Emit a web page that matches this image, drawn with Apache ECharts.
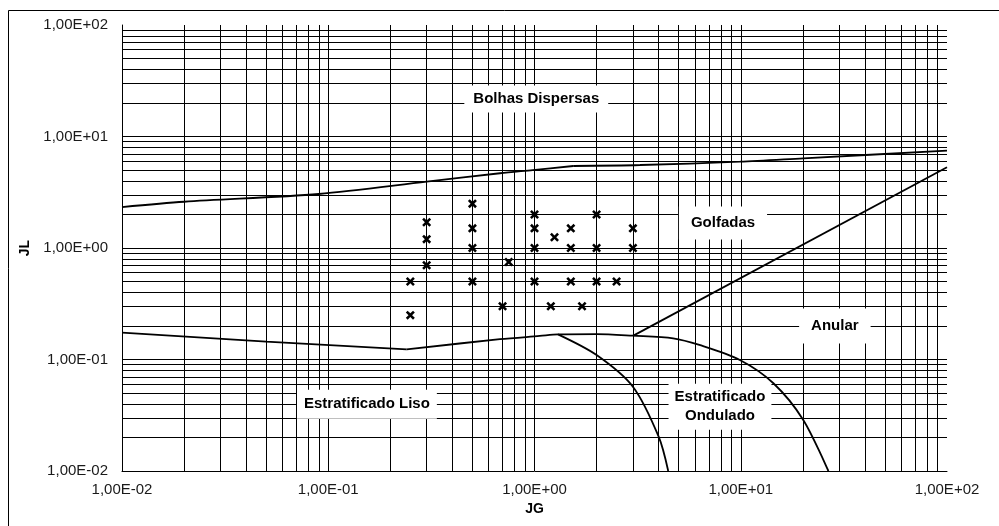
<!DOCTYPE html>
<html><head><meta charset="utf-8">
<script src="https://cdn.jsdelivr.net/npm/echarts@6/dist/echarts.min.js"></script>
<style>html,body{margin:0;padding:0;background:#fff}#c{width:999px;height:526px}</style>
</head><body><div id="c"></div>
<script>
// ---- tick labels ----
const xTickLabels = ['1,00E-02','1,00E-01','1,00E+00','1,00E+01','1,00E+02'];
const yTickLabels = ['1,00E-02','1,00E-01','1,00E+00','1,00E+01','1,00E+02'];
const xAxisName = 'JG';
const yAxisName = 'JL';

// ---- experimental points ----
const pointsJG = [0.25,0.25,0.3,0.3,0.3,0.5,0.5,0.5,0.5,0.75,0.7,1,1,1,1,1.25,1.2,1.5,1.5,1.5,1.7,2,2,2,2.5,3,3];
const pointsJL = [0.5,0.25,1.7,1.2,0.7,2.5,1.5,1.0,0.5,0.75,0.3,2,1.5,1,0.5,1.25,0.3,1.5,1,0.5,0.3,2,1,0.5,0.5,1.5,1];

// ---- transition boundaries ----
const upperAJG = [0.01,0.02,0.09,0.3,0.68,0.98,1.54];
const upperAJL = [2.33,2.6,3.05,3.93,4.68,5.0,5.44];
const upperBJG = [1.54,3.25,9.9,20.1,100];
const upperBJL = [5.44,5.55,5.94,6.37,7.47];

const lisoAJG = [0.01,0.05,0.24];
const lisoAJL = [0.174,0.1445,0.1235];
const lisoBJG = [0.24,0.68,1.06,1.3,2.0,3.0,4.7,6.3,9.9,14.4,20.1,26.6];
const lisoBJL = [0.1235,0.152,0.1626,0.168,0.169,0.1635,0.155,0.135,0.099,0.0612,0.0287,0.01];

const ondJG = [1.3,2.0,3.0,4.0,4.45];
const ondJL = [0.168,0.1096,0.057,0.0203,0.01];

const anularJG = [3.0,100];
const anularJL = [0.163,5.3];

// ---- region labels (anchored in data space) ----
const regionNames = ['Bolhas Dispersas','Golfadas','Anular','Estratificado Liso','Estratificado\nOndulado'];
const regionJG = [1.02,8.2,28.6,0.154,7.93];
const regionJL = [21.7,1.68,0.2,0.0396,0.0377];
const regionPad = [[4,9],[7,12],[8,12],[5,7],[4,6]];

// ---- grid line multipliers ----
const decades = [0.01,0.1,1,10];
const mults = [1,2,3,4,5,6,7,8,9];

const FONT = '"Liberation Sans", Arial, sans-serif';
function zip(a,b){return a.map((v,i)=>[v,b[i]]);}
function expLabel(arr){return function(v){const e=Math.round(Math.log10(v));return arr[e+2]||'';};}

const gridX = [], gridY = [];
decades.forEach(d=>mults.forEach(m=>{
  const v = +(d*m).toPrecision(3);
  if (v>0.01) { gridX.push({xAxis:v}); gridY.push({yAxis:v}); }
}));

const X_SHAPE = 'path://M0,2 L2,0 L5,3 L8,0 L10,2 L7,5 L10,8 L8,10 L5,7 L2,10 L0,8 L3,5 Z';
const lineStyle = {color:'#000', width:1.8};
function curve(jg,jl,smooth){
  return {type:'line', data:zip(jg,jl), symbol:'none', smooth:smooth, lineStyle:lineStyle,
          z:3, silent:true, animation:false};
}

const chart = echarts.init(document.getElementById('c'), null, {renderer:'canvas'});
chart.setOption({
  animation:false,
  backgroundColor:'#fff',
  textStyle:{fontFamily:FONT},
  grid:{left:122, right:52, top:25, bottom:55, containLabel:false},
  graphic:[{type:'rect', shape:{x:8.5,y:10.5,width:1200,height:700}, style:{fill:'none', stroke:'#000', lineWidth:1}, silent:true, z:0}],
  xAxis:{type:'log', logBase:10, min:0.01, max:100,
    name:xAxisName, nameLocation:'middle', nameGap:31,
    nameTextStyle:{fontFamily:FONT, fontSize:14, fontWeight:'bold', color:'#000'},
    axisLine:{show:true, lineStyle:{color:'#000', width:1}},
    axisTick:{show:false}, splitLine:{show:false},
    axisLabel:{formatter:expLabel(xTickLabels), fontFamily:FONT, fontSize:15, color:'#1a1a1a', margin:11}},
  yAxis:{type:'log', logBase:10, min:0.01, max:100,
    name:yAxisName, nameLocation:'middle', nameGap:84,
    nameTextStyle:{fontFamily:FONT, fontSize:14, fontWeight:'bold', color:'#000'},
    axisLine:{show:true, lineStyle:{color:'#000', width:1}},
    axisTick:{show:false}, splitLine:{show:false},
    axisLabel:{formatter:expLabel(yTickLabels), fontFamily:FONT, fontSize:15, color:'#1a1a1a', margin:14}},
  series:[
    {type:'line', data:[], symbol:'none', silent:true, z:1,
     markLine:{silent:true, symbol:['none','none'], label:{show:false}, animation:false,
       lineStyle:{color:'#000', width:1, type:'solid', opacity:1}, emphasis:{disabled:true},
       data:gridX.concat(gridY)}},
    curve(upperAJG,upperAJL,0.3),
    curve(upperBJG,upperBJL,0.3),
    curve(lisoAJG,lisoAJL,false),
    curve(lisoBJG,lisoBJL,0.3),
    curve(ondJG,ondJL,0.3),
    curve(anularJG,anularJL,false),
    {type:'scatter', data:zip(pointsJG,pointsJL), symbol:X_SHAPE, symbolSize:9,
     itemStyle:{color:'#000', opacity:1}, z:4, silent:true, animation:false},
    {type:'scatter', symbolSize:0, z:6, silent:true, animation:false,
     itemStyle:{opacity:1},
     data:regionNames.map((n,i)=>({value:[regionJG[i],regionJL[i]],
       label:{show:true, position:'inside', formatter:n, fontFamily:FONT, fontSize:15, fontWeight:'bold',
              color:'#000', opacity:1, textBorderWidth:0, backgroundColor:'#fff', padding:regionPad[i], lineHeight:19, align:'center'}}))}
  ]
});
</script></body></html>
